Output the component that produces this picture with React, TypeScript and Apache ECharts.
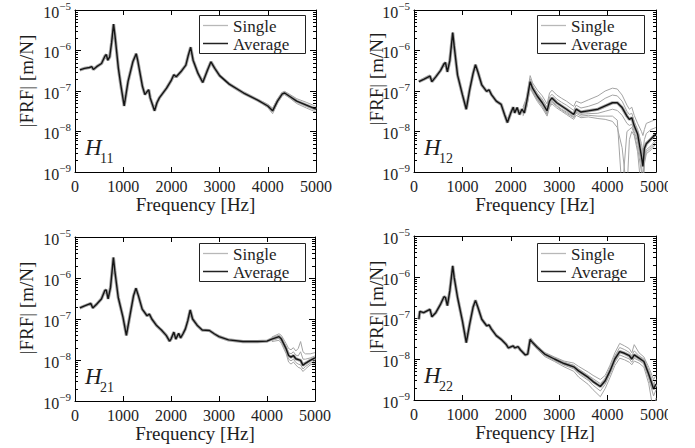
import React, { useEffect, useRef } from "react";
import * as echarts from "echarts";

// ---------- data (log10 of |FRF| in m/N) ----------
const xTickValues = [0, 1000, 2000, 3000, 4000, 5000];
const yDecades = [-9, -8, -7, -6, -5];
const legendNames = ["Single", "Average"];

// H11
const h11Freq = [100, 200, 300, 350, 380, 450, 550, 620, 650, 680, 720, 760, 800, 830, 900, 950, 1020, 1100, 1200, 1270, 1300, 1400, 1450, 1500, 1530, 1560, 1650, 1700, 1750, 1800, 1900, 2000, 2050, 2100, 2200, 2300, 2350, 2400, 2450, 2550, 2650, 2750, 2820, 2900, 3000, 3200, 3500, 3800, 4000, 4100, 4200, 4300, 4350, 4450, 4600, 4800, 5000];
const h11Avg = [-6.48, -6.44, -6.42, -6.40, -6.47, -6.40, -6.32, -6.14, -6.10, -6.24, -6.16, -5.80, -5.35, -5.64, -6.44, -6.85, -7.37, -6.77, -6.28, -6.08, -6.24, -6.89, -7.09, -7.01, -6.97, -7.17, -7.49, -7.29, -7.17, -7.09, -6.93, -6.73, -6.60, -6.65, -6.52, -6.36, -6.12, -5.92, -6.24, -6.56, -6.79, -6.48, -6.28, -6.44, -6.62, -6.83, -7.05, -7.23, -7.37, -7.49, -7.25, -7.07, -7.05, -7.13, -7.25, -7.35, -7.45];
const h11SingleFreq = [3900, 4000, 4100, 4200, 4300, 4350, 4450, 4600, 4800, 5000];
const h11SingleA = [-7.27, -7.33, -7.42, -7.20, -7.03, -7.01, -7.08, -7.19, -7.28, -7.38];
const h11SingleB = [-7.33, -7.41, -7.56, -7.30, -7.11, -7.09, -7.17, -7.31, -7.42, -7.52];

// H12
const h12Freq = [100, 200, 330, 370, 450, 550, 620, 650, 690, 740, 800, 830, 900, 1000, 1080, 1150, 1220, 1270, 1320, 1400, 1500, 1550, 1600, 1700, 1800, 1870, 1930, 2000, 2050, 2080, 2130, 2180, 2230, 2280, 2330, 2400, 2450, 2550, 2650, 2750, 2800, 2850, 2950, 3050, 3150, 3300, 3350, 3450, 3600, 3800, 3950, 4100, 4200, 4300, 4400, 4450, 4500, 4550, 4620, 4700, 4730, 4760, 4800, 4900, 5000];
const h12Avg = [-6.77, -6.71, -6.63, -6.77, -6.65, -6.49, -6.33, -6.30, -6.53, -6.25, -5.56, -5.89, -6.61, -7.09, -7.45, -6.97, -6.57, -6.35, -6.53, -6.85, -7.01, -6.97, -7.09, -7.25, -7.33, -7.58, -7.78, -7.54, -7.40, -7.54, -7.41, -7.58, -7.45, -7.54, -7.25, -6.77, -6.93, -7.13, -7.29, -7.49, -7.25, -7.17, -7.29, -7.37, -7.45, -7.58, -7.45, -7.52, -7.49, -7.45, -7.37, -7.29, -7.29, -7.41, -7.62, -7.70, -7.66, -7.86, -8.06, -8.62, -8.86, -8.42, -8.30, -8.18, -8.06];
const h12SingleFreq = [2250, 2330, 2400, 2450, 2550, 2650, 2750, 2800, 2850, 2950, 3050, 3150, 3300, 3350, 3450, 3600, 3800, 3950, 4100, 4200, 4300, 4400, 4450, 4500, 4550, 4620, 4700, 4730, 4760, 4800, 4900, 5000];
const h12SingleA = [-7.40, -7.15, -6.62, -6.80, -6.98, -7.12, -7.32, -7.05, -6.98, -7.10, -7.18, -7.25, -7.38, -7.25, -7.30, -7.22, -7.12, -7.00, -6.93, -6.95, -7.10, -7.35, -7.45, -7.40, -7.60, -7.80, -8.00, -8.10, -7.95, -7.80, -7.75, -7.70];
const h12SingleB = [-7.45, -7.20, -6.70, -6.87, -7.06, -7.20, -7.40, -7.15, -7.08, -7.20, -7.28, -7.35, -7.48, -7.35, -7.42, -7.38, -7.30, -7.18, -7.10, -7.12, -7.25, -7.50, -7.58, -7.55, -7.75, -7.95, -8.30, -8.50, -8.20, -8.05, -7.95, -7.90];
const h12SingleC = [-7.55, -7.32, -6.85, -6.99, -7.20, -7.36, -7.56, -7.33, -7.25, -7.36, -7.45, -7.52, -7.64, -7.52, -7.58, -7.56, -7.55, -7.50, -7.45, -7.48, -7.60, -7.80, -7.85, -7.82, -8.00, -8.25, -8.80, -9.20, -8.60, -8.45, -8.35, -8.20];
const h12SingleD = [-7.62, -7.40, -6.92, -7.05, -7.26, -7.42, -7.62, -7.40, -7.32, -7.42, -7.50, -7.58, -7.70, -7.60, -7.66, -7.64, -7.68, -7.70, -7.75, -7.90, -8.40, -9.50, -8.20, -8.00, -8.10, -8.50, -9.50, -9.50, -8.80, -8.55, -8.45, -8.30];
const h12SingleE = [-7.58, -7.35, -6.88, -7.02, -7.22, -7.38, -7.58, -7.36, -7.28, -7.38, -7.47, -7.55, -7.66, -7.55, -7.62, -7.60, -7.62, -7.62, -7.62, -7.72, -9.50, -8.00, -7.95, -7.90, -8.05, -8.40, -9.00, -9.50, -8.70, -8.50, -8.40, -8.25];

// H21
const h21Freq = [100, 200, 330, 370, 450, 550, 620, 650, 690, 740, 800, 830, 900, 1000, 1070, 1150, 1220, 1270, 1320, 1400, 1500, 1550, 1600, 1700, 1800, 1900, 1970, 2000, 2060, 2100, 2160, 2200, 2250, 2300, 2350, 2400, 2450, 2550, 2650, 2800, 2900, 3000, 3200, 3500, 3800, 4000, 4100, 4250, 4300, 4400, 4450, 4500, 4550, 4600, 4700, 4750, 4800, 4900, 5000];
const h21Avg = [-6.73, -6.68, -6.62, -6.73, -6.64, -6.51, -6.31, -6.29, -6.51, -6.23, -5.50, -5.83, -6.47, -6.96, -7.40, -6.88, -6.43, -6.25, -6.43, -6.76, -6.92, -6.88, -7.00, -7.16, -7.27, -7.40, -7.54, -7.49, -7.32, -7.49, -7.35, -7.46, -7.36, -7.24, -7.04, -6.78, -7.00, -7.16, -7.27, -7.28, -7.36, -7.43, -7.51, -7.55, -7.55, -7.54, -7.49, -7.43, -7.49, -7.73, -7.89, -7.93, -7.89, -7.97, -8.01, -8.13, -8.08, -8.01, -7.95];
const h21SingleFreq = [4100, 4250, 4300, 4400, 4450, 4500, 4550, 4600, 4650, 4700, 4750, 4800, 4900, 5000];
const h21SingleA = [-7.44, -7.36, -7.40, -7.60, -7.72, -7.75, -7.70, -7.78, -7.72, -7.55, -7.80, -7.85, -7.85, -7.82];
const h21SingleB = [-7.47, -7.40, -7.45, -7.68, -7.82, -7.85, -7.80, -7.88, -7.90, -7.80, -7.98, -7.98, -7.95, -7.90];
const h21SingleC = [-7.52, -7.47, -7.55, -7.80, -7.98, -8.02, -7.98, -8.06, -8.10, -8.12, -8.22, -8.16, -8.08, -8.02];
const h21SingleD = [-7.55, -7.52, -7.60, -7.85, -8.05, -8.10, -8.05, -8.12, -8.18, -8.20, -8.28, -8.22, -8.12, -8.08];

// H22
const h22Freq = [100, 120, 200, 330, 370, 450, 550, 620, 650, 690, 740, 800, 830, 900, 1000, 1080, 1150, 1220, 1270, 1320, 1400, 1500, 1550, 1600, 1700, 1800, 1900, 1950, 2050, 2080, 2150, 2200, 2300, 2350, 2400, 2450, 2550, 2700, 2900, 3100, 3300, 3400, 3600, 3700, 3850, 3950, 4050, 4150, 4250, 4350, 4450, 4500, 4550, 4650, 4750, 4850, 4950, 5000];
const h22Avg = [-7.03, -6.84, -6.87, -6.79, -6.97, -6.87, -6.66, -6.48, -6.50, -6.70, -6.34, -5.73, -6.01, -6.50, -7.07, -7.60, -7.15, -6.74, -6.57, -6.74, -7.03, -7.19, -7.17, -7.27, -7.43, -7.52, -7.64, -7.73, -7.68, -7.73, -7.70, -7.78, -7.90, -7.88, -7.52, -7.60, -7.72, -7.88, -8.00, -8.11, -8.19, -8.29, -8.45, -8.55, -8.67, -8.53, -8.29, -8.00, -7.82, -7.86, -7.92, -8.00, -7.90, -7.98, -8.06, -8.37, -8.73, -8.61];
const h22SingleFreq = [2400, 2550, 2700, 2900, 3100, 3300, 3400, 3600, 3700, 3850, 3950, 4050, 4150, 4250, 4350, 4450, 4500, 4550, 4650, 4750, 4850, 4950, 5000];
const h22SingleA = [-7.48, -7.68, -7.84, -7.95, -8.05, -8.10, -8.18, -8.32, -8.40, -8.50, -8.40, -8.15, -7.85, -7.62, -7.68, -7.75, -7.85, -7.65, -7.85, -7.95, -8.20, -8.50, -8.40];
const h22SingleB = [-7.50, -7.70, -7.86, -7.98, -8.08, -8.15, -8.24, -8.40, -8.48, -8.60, -8.47, -8.22, -7.92, -7.72, -7.77, -7.84, -7.92, -7.80, -7.92, -8.00, -8.28, -8.62, -8.50];
const h22SingleC = [-7.55, -7.75, -7.91, -8.03, -8.15, -8.24, -8.36, -8.52, -8.64, -8.78, -8.62, -8.36, -8.08, -7.90, -7.95, -8.00, -8.08, -7.98, -8.04, -8.12, -8.48, -8.90, -8.75];
const h22SingleD = [-7.57, -7.77, -7.94, -8.06, -8.19, -8.30, -8.44, -8.62, -8.75, -8.92, -8.72, -8.45, -8.16, -7.98, -8.02, -8.08, -8.14, -8.05, -8.10, -8.20, -8.60, -9.30, -8.95];

const panels = [
  { sub: "11", freq: h11Freq, avg: h11Avg, sFreq: h11SingleFreq, singles: [h11SingleA, h11SingleB] },
  { sub: "12", freq: h12Freq, avg: h12Avg, sFreq: h12SingleFreq, singles: [h12SingleA, h12SingleB, h12SingleC, h12SingleD, h12SingleE] },
  { sub: "21", freq: h21Freq, avg: h21Avg, sFreq: h21SingleFreq, singles: [h21SingleA, h21SingleB, h21SingleC, h21SingleD] },
  { sub: "22", freq: h22Freq, avg: h22Avg, sFreq: h22SingleFreq, singles: [h22SingleA, h22SingleB, h22SingleC, h22SingleD] },
];

// ---------- layout ----------
const FONT = "'Liberation Serif', 'DejaVu Serif', serif";
const TXT = "#1e1e1e";
const SINGLE_COLOR = "#a4a4a4";
const AVG_COLOR = "#141414";
const grids = [
  { left: 75, top: 7, width: 241, height: 165 },
  { left: 414, top: 6, width: 242, height: 166 },
  { left: 75, top: 237, width: 240, height: 164 },
  { left: 414, top: 236, width: 242, height: 164 },
];
const legendBoxes = [
  { x: 199, y: 15, w: 106 },
  { x: 537, y: 15, w: 107 },
  { x: 199, y: 243, w: 106 },
  { x: 537, y: 243, w: 107 },
];
const yNamePos = [
  { x: 26, y: 81 },
  { x: 376, y: 79 },
  { x: 26, y: 308 },
  { x: 376, y: 307 },
];

const toPairs = (f: number[], l: number[]) => f.map((x, i) => [x, Math.pow(10, l[i])]);

function buildOption() {
  const xAxis: any[] = [];
  const yAxis: any[] = [];
  const series: any[] = [];
  const graphic: any[] = [];
  const minorVals: number[][] = [];
  for (let n = yDecades[0]; n < yDecades[yDecades.length - 1]; n++) {
    for (let k = 2; k <= 9; k++) minorVals.push([xTickValues[0], k * Math.pow(10, n)]);
  }
  const axisLine = { show: true, onZero: false, lineStyle: { color: "#000", width: 1 } };

  grids.forEach((g, i) => {
    const p = panels[i];
    xAxis.push({
      gridIndex: i, type: "value", position: "bottom",
      min: xTickValues[0], max: xTickValues[xTickValues.length - 1], interval: 1000,
      axisLine, axisTick: { show: true, inside: true, length: 5, lineStyle: { color: "#000" } },
      axisLabel: {
        fontFamily: FONT, fontSize: 16, color: TXT, margin: 6, showMinLabel: true, showMaxLabel: true,
        formatter: (v: number) => String(v),
      },
      splitLine: { show: false },
      name: "Frequency [Hz]", nameLocation: "middle", nameGap: 22,
      nameTextStyle: { fontFamily: FONT, fontSize: 19, color: TXT, fontWeight: "normal" },
    });
    xAxis.push({
      gridIndex: i, type: "value", position: "top",
      min: xTickValues[0], max: xTickValues[xTickValues.length - 1], interval: 1000,
      axisLine, axisTick: { show: true, inside: true, length: 5, lineStyle: { color: "#000" } },
      axisLabel: { show: false }, splitLine: { show: false },
    });
    const yBase = {
      gridIndex: i, type: "log", logBase: 10,
      min: Math.pow(10, yDecades[0]), max: Math.pow(10, yDecades[yDecades.length - 1]),
      axisLine, axisTick: { show: true, inside: true, length: 6, lineStyle: { color: "#000" } },
      splitLine: { show: false }, minorTick: { show: false },
    };
    yAxis.push({
      ...yBase, position: "left",
      axisLabel: {
        margin: 4, showMinLabel: true, showMaxLabel: true,
        formatter: (v: number) => {
          const e = Math.round(Math.log10(v));
          return `{s| }{b|10}{e|${e < 0 ? "\u2212" : ""}${Math.abs(e)}}`;
        },
        rich: {
          s: { fontSize: 1, lineHeight: 20 },
          b: { fontFamily: FONT, fontSize: 16, lineHeight: 16, verticalAlign: "bottom", color: TXT },
          e: { fontFamily: FONT, fontSize: 11, lineHeight: 13, verticalAlign: "top", color: TXT },
        },
      },
    });
    yAxis.push({ ...yBase, position: "right", axisLabel: { show: false } });

    const xi = 2 * i;
    const yi = 2 * i;
    series.push({
      name: "halo", type: "line", xAxisIndex: xi, yAxisIndex: yi, data: toPairs(p.freq, p.avg),
      symbol: "none", silent: true, lineStyle: { color: SINGLE_COLOR, width: 3.2 }, z: 2,
    });
    p.singles.forEach((s) => {
      series.push({
        name: legendNames[0], type: "line", xAxisIndex: xi, yAxisIndex: yi, data: toPairs(p.sFreq, s),
        symbol: "none", silent: true, lineStyle: { color: SINGLE_COLOR, width: 1 }, z: 3,
      });
    });
    series.push({
      name: legendNames[1], type: "line", xAxisIndex: xi, yAxisIndex: yi, data: toPairs(p.freq, p.avg),
      symbol: "none", silent: true, lineStyle: { color: AVG_COLOR, width: 1.4 }, z: 4,
    });
    series.push({
      name: "minor", type: "custom", xAxisIndex: xi, yAxisIndex: yi, data: minorVals, silent: true, z: 5,
      renderItem: (_params: any, api: any) => {
        const v = api.value(1);
        const a = api.coord([xTickValues[0], v]);
        const b = api.coord([xTickValues[xTickValues.length - 1], v]);
        const ya = Math.round(a[1]) + 0.5;
        return {
          type: "group",
          children: [
            { type: "line", shape: { x1: a[0], y1: ya, x2: a[0] + 3, y2: ya }, style: { stroke: "#000", lineWidth: 1 } },
            { type: "line", shape: { x1: b[0] - 3, y1: ya, x2: b[0], y2: ya }, style: { stroke: "#000", lineWidth: 1 } },
          ],
        };
      },
    });

    // legend box
    const lb = legendBoxes[i];
    graphic.push({
      type: "rect", z: 30, shape: { x: lb.x + 0.5, y: lb.y + 0.5, width: lb.w, height: 38 },
      style: { fill: "#fff", stroke: "#222", lineWidth: 1 },
    });
    graphic.push({
      type: "line", z: 31, shape: { x1: lb.x + 4, y1: lb.y + 10.5, x2: lb.x + 29, y2: lb.y + 10.5 },
      style: { stroke: "#b8b8b8", lineWidth: 1.3 },
    });
    graphic.push({
      type: "line", z: 31, shape: { x1: lb.x + 4, y1: lb.y + 28.5, x2: lb.x + 29, y2: lb.y + 28.5 },
      style: { stroke: "#222", lineWidth: 1.5 },
    });
    graphic.push({
      type: "text", z: 31, x: lb.x + 34, y: lb.y + 11,
      style: { text: legendNames[0], font: `17px ${FONT}`, lineHeight: 15, fill: TXT, textVerticalAlign: "middle" },
    });
    graphic.push({
      type: "text", z: 31, x: lb.x + 34, y: lb.y + 29,
      style: { text: legendNames[1], font: `17px ${FONT}`, lineHeight: 15, fill: TXT, textVerticalAlign: "middle" },
    });

    const bottom = g.top + g.height;
    graphic.push({
      type: "text", x: g.left + 10, y: bottom - 36, z: 20,
      style: { text: "H", font: `italic 23px ${FONT}`, fill: TXT, textVerticalAlign: "top" },
    });
    graphic.push({
      type: "text", x: g.left + 25, y: bottom - 21, z: 20,
      style: { text: p.sub, font: `14px ${FONT}`, fill: TXT, textVerticalAlign: "top" },
    });
    graphic.push({
      type: "text", x: yNamePos[i].x, y: yNamePos[i].y, rotation: Math.PI / 2, z: 20,
      style: { text: "|FRF| [m/N]", font: `19px ${FONT}`, fill: TXT, textAlign: "center", textVerticalAlign: "middle" },
    });
  });

  graphic.push({ type: "rect", shape: { x: 668, y: 0, width: 27, height: 448 }, style: { fill: "#fff" }, z: 100 });

  return {
    animation: false,
    backgroundColor: "#fff",
    grid: grids.map((g) => ({ ...g, containLabel: false })),
    xAxis, yAxis, series, graphic,
  };
}

export default function App() {
  const ref = useRef<HTMLDivElement>(null);
  useEffect(() => {
    if (!ref.current) return;
    const chart = echarts.init(ref.current, undefined, { renderer: "svg" });
    chart.setOption(buildOption() as any);
    return () => chart.dispose();
  }, []);
  return <div ref={ref} style={{ position: "absolute", left: 0, top: 0, width: 695, height: 448 }} />;
}
